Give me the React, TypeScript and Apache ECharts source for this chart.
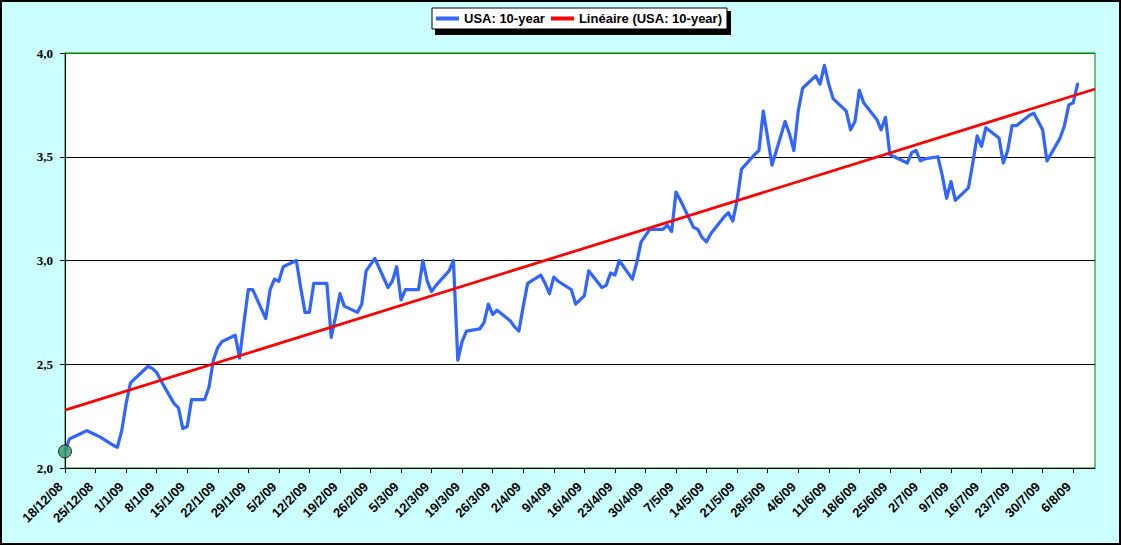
import React, { useEffect, useRef } from "react";
import * as echarts from "echarts";

// ---- data ----
const dates: string[] = [
  "2008-12-18", "2008-12-19", "2008-12-22", "2008-12-23", "2008-12-24", "2008-12-25", "2008-12-26",
  "2008-12-29", "2008-12-30", "2008-12-31", "2009-01-01", "2009-01-02",
  "2009-01-05", "2009-01-06", "2009-01-07", "2009-01-08", "2009-01-09",
  "2009-01-12", "2009-01-13", "2009-01-14", "2009-01-15", "2009-01-16",
  "2009-01-19", "2009-01-20", "2009-01-21", "2009-01-22", "2009-01-23",
  "2009-01-26", "2009-01-27", "2009-01-28", "2009-01-29", "2009-01-30",
  "2009-02-02", "2009-02-03", "2009-02-04", "2009-02-05", "2009-02-06",
  "2009-02-09", "2009-02-10", "2009-02-11", "2009-02-12", "2009-02-13",
  "2009-02-16", "2009-02-17", "2009-02-18", "2009-02-19", "2009-02-20",
  "2009-02-23", "2009-02-24", "2009-02-25", "2009-02-26", "2009-02-27",
  "2009-03-02", "2009-03-03", "2009-03-04", "2009-03-05", "2009-03-06",
  "2009-03-09", "2009-03-10", "2009-03-11", "2009-03-12", "2009-03-13",
  "2009-03-16", "2009-03-17", "2009-03-18", "2009-03-19", "2009-03-20",
  "2009-03-23", "2009-03-24", "2009-03-25", "2009-03-26", "2009-03-27",
  "2009-03-30", "2009-03-31", "2009-04-01", "2009-04-02", "2009-04-03",
  "2009-04-06", "2009-04-07", "2009-04-08", "2009-04-09", "2009-04-10",
  "2009-04-13", "2009-04-14", "2009-04-15", "2009-04-16", "2009-04-17",
  "2009-04-20", "2009-04-21", "2009-04-22", "2009-04-23", "2009-04-24",
  "2009-04-27", "2009-04-28", "2009-04-29", "2009-04-30", "2009-05-01",
  "2009-05-04", "2009-05-05", "2009-05-06", "2009-05-07", "2009-05-08",
  "2009-05-11", "2009-05-12", "2009-05-13", "2009-05-14", "2009-05-15",
  "2009-05-18", "2009-05-19", "2009-05-20", "2009-05-21", "2009-05-22",
  "2009-05-25", "2009-05-26", "2009-05-27", "2009-05-28", "2009-05-29",
  "2009-06-01", "2009-06-02", "2009-06-03", "2009-06-04", "2009-06-05",
  "2009-06-08", "2009-06-09", "2009-06-10", "2009-06-11", "2009-06-12",
  "2009-06-15", "2009-06-16", "2009-06-17", "2009-06-18", "2009-06-19",
  "2009-06-22", "2009-06-23", "2009-06-24", "2009-06-25", "2009-06-26",
  "2009-06-29", "2009-06-30", "2009-07-01", "2009-07-02", "2009-07-03",
  "2009-07-06", "2009-07-07", "2009-07-08", "2009-07-09", "2009-07-10",
  "2009-07-13", "2009-07-14", "2009-07-15", "2009-07-16", "2009-07-17",
  "2009-07-20", "2009-07-21", "2009-07-22", "2009-07-23", "2009-07-24",
  "2009-07-27", "2009-07-28", "2009-07-29", "2009-07-30", "2009-07-31",
  "2009-08-03", "2009-08-04", "2009-08-05", "2009-08-06", "2009-08-07",
];

const yields: number[] = [
  2.08, 2.14, 2.17, 2.18, 2.17, 2.16, 2.15,
  2.11, 2.10, 2.18, 2.31, 2.41,
  2.47, 2.49, 2.48, 2.46, 2.42,
  2.31, 2.29, 2.19, 2.20, 2.33,
  2.33, 2.39, 2.52, 2.58, 2.61,
  2.64, 2.53, 2.70, 2.86, 2.86,
  2.72, 2.86, 2.91, 2.90, 2.97,
  3.00, 2.87, 2.75, 2.75, 2.89,
  2.89, 2.63, 2.73, 2.84, 2.78,
  2.75, 2.79, 2.95, 2.98, 3.01,
  2.87, 2.90, 2.97, 2.81, 2.86,
  2.86, 3.00, 2.90, 2.85, 2.88,
  2.95, 3.00, 2.52, 2.61, 2.66,
  2.67, 2.70, 2.79, 2.74, 2.76,
  2.71, 2.68, 2.66, 2.78, 2.89,
  2.93, 2.89, 2.84, 2.92, 2.90,
  2.86, 2.79, 2.81, 2.83, 2.95,
  2.87, 2.88, 2.94, 2.93, 3.00,
  2.91, 2.99, 3.09, 3.12, 3.15,
  3.15, 3.17, 3.14, 3.33, 3.29,
  3.16, 3.15, 3.11, 3.09, 3.13,
  3.21, 3.23, 3.19, 3.29, 3.44,
  3.51, 3.53, 3.72, 3.59, 3.46,
  3.67, 3.61, 3.53, 3.72, 3.83,
  3.89, 3.85, 3.94, 3.85, 3.78,
  3.72, 3.63, 3.67, 3.82, 3.76,
  3.68, 3.63, 3.69, 3.51, 3.50,
  3.47, 3.52, 3.53, 3.48, 3.49,
  3.50, 3.41, 3.30, 3.38, 3.29,
  3.35, 3.47, 3.60, 3.55, 3.64,
  3.59, 3.47, 3.53, 3.65, 3.65,
  3.70, 3.71, 3.67, 3.63, 3.48,
  3.59, 3.65, 3.75, 3.76, 3.85,
];

const seriesNames: string[] = ["USA: 10-year", "Linéaire (USA: 10-year)"];
const axisStartDate = "2008-12-18";
const axisEndDate = "2009-08-11";
const tickStepDays = 7;
const yMin = 2;
const yMax = 4;
const yStep = 0.5;

// ---- helpers ----
const DAY = 86400000;
function toUTC(s: string): number {
  const [y, m, d] = s.split("-").map(Number);
  return Date.UTC(y, m - 1, d);
}
const START = toUTC(axisStartDate);
const X_MAX = Math.round((toUTC(axisEndDate) - START) / DAY);
function dayIndex(s: string): number {
  return Math.round((toUTC(s) - START) / DAY);
}
function dayLabel(v: number): string {
  const dt = new Date(START + v * DAY);
  return `${dt.getUTCDate()}/${dt.getUTCMonth() + 1}/${String(dt.getUTCFullYear()).slice(2)}`;
}

export default function App() {
  const ref = useRef<HTMLDivElement>(null);

  useEffect(() => {
    if (!ref.current) return;
    const chart = echarts.init(ref.current, undefined, { renderer: "svg" });

    const points: [number, number][] = dates.map((d, i) => [dayIndex(d), yields[i]]);

    // Linear trend (least squares), like the spreadsheet's "Linéaire" trendline
    const n = points.length;
    let sx = 0, sy = 0, sxx = 0, sxy = 0;
    points.forEach(([x, y]) => { sx += x; sy += y; sxx += x * x; sxy += x * y; });
    const slope = (n * sxy - sx * sy) / (n * sxx - sx * sx);
    const intercept = (sy - slope * sx) / n;
    const trend: [number, number][] = [
      [0, intercept],
      [X_MAX, intercept + slope * X_MAX],
    ];

    const tickDays: number[] = [];
    for (let d = 0; d <= X_MAX; d += tickStepDays) tickDays.push(d);

    chart.setOption({
      animation: false,
      backgroundColor: "#CCFFFF",
      grid: {
        left: 65,
        top: 53,
        right: 26,
        bottom: 77,
        show: true,
        backgroundColor: "#FFFFFF",
        borderColor: "#008000",
        borderWidth: 1,
        containLabel: false,
        outerBoundsMode: "none",
      },
      legend: {
        data: seriesNames,
        left: 432,
        top: 8,
        padding: [4, 5, 4, 4],
        itemGap: 6,
        itemWidth: 23,
        itemHeight: 4,
        icon: "rect",
        backgroundColor: "#FFFFFF",
        borderColor: "#000000",
        borderWidth: 1,
        z: 10,
        selectedMode: false,
        textStyle: {
          fontFamily: "'Liberation Sans', Arial, sans-serif",
          fontWeight: "bold",
          fontSize: 13,
          color: "#000000",
        },
      },
      xAxis: {
        type: "value",
        min: 0,
        max: X_MAX,
        interval: tickStepDays,
        axisLine: { show: true, onZero: false, lineStyle: { color: "#000000", width: 1 } },
        axisTick: {
          show: true,
          inside: false,
          length: 5,
          lineStyle: { color: "#000000" },
          customValues: tickDays,
        },
        axisLabel: {
          show: true,
          rotate: 45,
          margin: 21,
          verticalAlign: "bottom",
          customValues: tickDays,
          formatter: (v: number) => (v % tickStepDays === 0 ? dayLabel(v) : ""),
          fontFamily: "'Liberation Sans', Arial, sans-serif",
          fontWeight: "bold",
          fontSize: 13,
          color: "#000000",
        },
        splitLine: { show: false },
      },
      yAxis: {
        type: "value",
        min: yMin,
        max: yMax,
        interval: yStep,
        axisLine: { show: true, lineStyle: { color: "#000000", width: 1 } },
        axisTick: { show: true, inside: false, length: 5, lineStyle: { color: "#000000" } },
        axisLabel: {
          margin: 12,
          formatter: (v: number) => v.toFixed(1).replace(".", ","),
          fontFamily: "'Liberation Serif', 'Times New Roman', serif",
          fontWeight: "bold",
          fontSize: 13,
          color: "#000000",
        },
        splitLine: {
          show: true,
          lineStyle: { color: ["#000000", "#000000", "#000000", "#000000", "#008000"], width: 1 },
        },
      },
      graphic: [
        {
          type: "rect",
          z: 1,
          silent: true,
          shape: { x: 435, y: 11, width: 296, height: 24 },
          style: { fill: "#000000" },
        },
        {
          type: "rect",
          z: 100,
          silent: true,
          shape: { x: 1, y: 1, width: 1119, height: 543 },
          style: { fill: "none", stroke: "#000000", lineWidth: 2 },
        },
      ],
      series: [
        {
          name: seriesNames[0],
          type: "line",
          data: points,
          symbol: "none",
          z: 3,
          color: "#3366FF",
          lineStyle: { color: "#3366FF", width: 3.25, join: "round", cap: "round" },
        },
        {
          name: seriesNames[1],
          type: "line",
          data: trend,
          symbol: "none",
          z: 4,
          color: "#FF0000",
          lineStyle: { color: "#FF0000", width: 2.75 },
        },
        {
          name: "first",
          type: "scatter",
          data: [points[0]],
          symbol: "circle",
          symbolSize: 13,
          z: 5,
          itemStyle: { color: "#339966", borderColor: "#000000", borderWidth: 1 },
        },
      ],
    });

    return () => chart.dispose();
  }, []);

  return (
    <div
      ref={ref}
      style={{ position: "absolute", left: 0, top: 0, width: 1121, height: 545 }}
    />
  );
}
